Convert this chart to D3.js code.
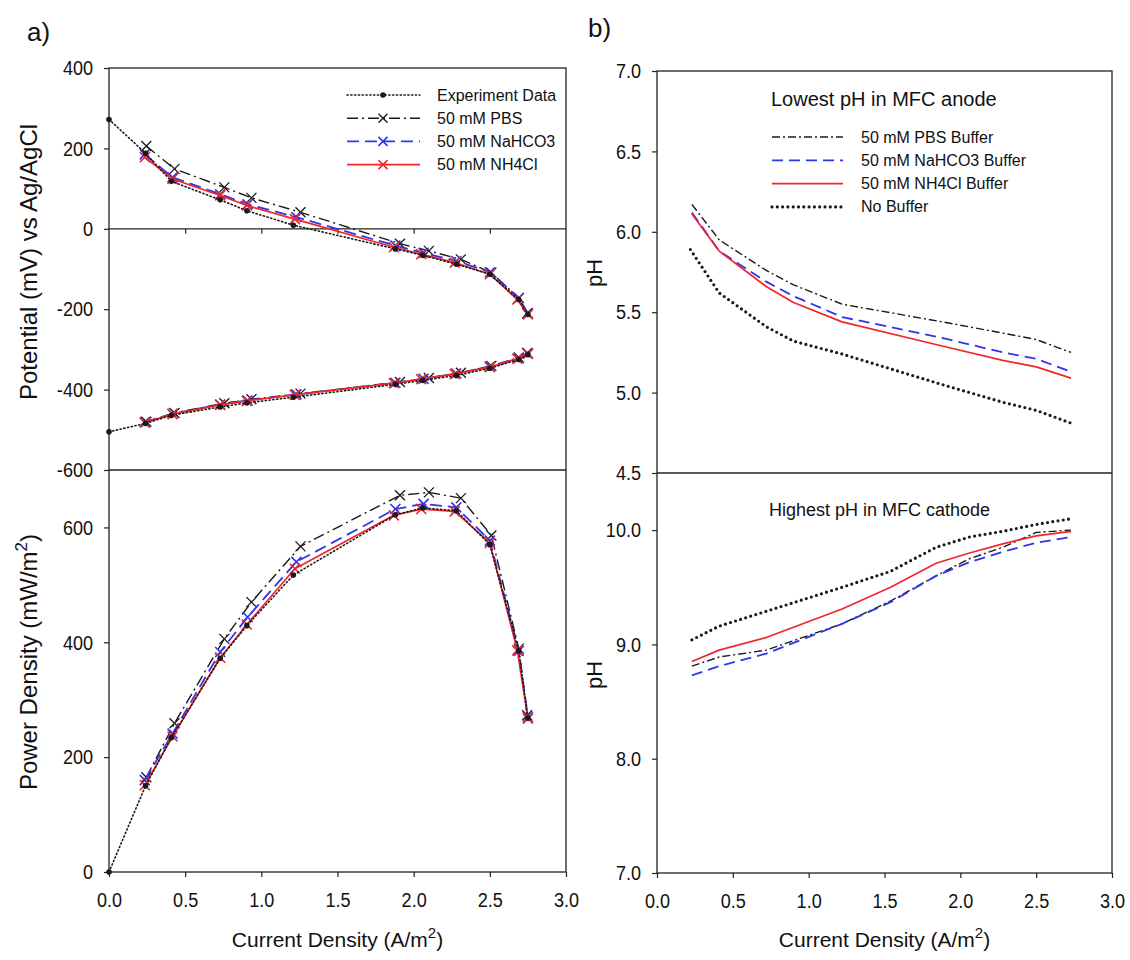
<!DOCTYPE html>
<html>
<head>
<meta charset="utf-8">
<script src="https://cdn.jsdelivr.net/npm/d3@7"></script>
<style>
  body { margin: 0; background: #fff; }
  svg { display: block; font-family: "Liberation Sans", Arial, sans-serif; }
</style>
</head>
<body>
<svg id="fig" width="1130" height="960"></svg>
<script>
// ---------- Panel a) polarization and power curves ----------
const expX        = [0, 0.24, 0.41, 0.73, 0.905, 1.21, 1.88, 2.06, 2.28, 2.5, 2.69, 2.75];
const expCathode  = [272, 188, 118, 72, 45, 9, -50, -66, -88, -113, -176, -213];
const expAnode    = [-505, -484, -464, -443, -433, -419, -387, -377, -365, -347, -325, -313];
const expPower    = [0, 150, 234, 372, 429, 517, 622, 634, 629, 570, 385, 268];

const pbsX        = [0.245, 0.43, 0.757, 0.935, 1.257, 1.91, 2.10, 2.31, 2.51, 2.69, 2.745];
const pbsCathode  = [206, 149, 103, 77, 41, -37, -55, -76, -109, -172, -210];
const pbsAnode    = [-480, -458, -434, -424, -410, -381, -371, -358, -341, -320, -309];
const pbsPower    = [165, 259, 406, 470, 567, 656, 661, 651, 586, 389, 273];

const bicX        = [0.235, 0.417, 0.73, 0.91, 1.23, 1.88, 2.065, 2.28, 2.5, 2.69, 2.75];
const bicCathode  = [185, 128, 86, 61, 29, -42, -60, -80, -108, -172, -210];
const bicAnode    = [-481, -460, -437, -427, -412, -383, -373, -360, -343, -322, -310];
const bicPower    = [160, 241, 383, 444, 540, 632, 641, 635, 577, 385, 270];

const nh4X        = [0.235, 0.417, 0.73, 0.905, 1.22, 1.87, 2.05, 2.27, 2.5, 2.68, 2.75];
const nh4Cathode  = [178, 124, 83, 58, 24, -46, -63, -84, -113, -176, -213];
const nh4Anode    = [-482, -461, -438, -428, -413, -384, -374, -361, -344, -323, -311];
const nh4Power    = [151, 236, 373, 431, 528, 621, 632, 628, 573, 386, 267];

// ---------- Panel b) extreme pH values ----------
const anodeX      = [0.23, 0.41, 0.72, 0.9, 1.22, 1.88, 2.28, 2.5, 2.73];
const pbsAnodePH  = [6.17, 5.95, 5.76, 5.67, 5.55, 5.44, 5.37, 5.33, 5.25];
const bicAnodePH  = [6.12, 5.88, 5.69, 5.60, 5.47, 5.34, 5.25, 5.21, 5.13];
const nh4AnodePH  = [6.11, 5.88, 5.66, 5.56, 5.44, 5.29, 5.20, 5.16, 5.09];
const noBufAnodeX = [0.22, 0.41, 0.72, 0.9, 1.22, 1.88, 2.28, 2.5, 2.73];
const noBufAnodePH= [5.89, 5.62, 5.41, 5.32, 5.24, 5.05, 4.94, 4.89, 4.81];

const cathodeX       = [0.23, 0.41, 0.72, 1.22, 1.54, 1.84, 2.06, 2.28, 2.5, 2.73];
const pbsCathodePH   = [8.81, 8.89, 8.95, 9.18, 9.38, 9.60, 9.75, 9.85, 9.98, 10.00];
const bicCathodePH   = [8.73, 8.81, 8.92, 9.18, 9.37, 9.60, 9.72, 9.81, 9.89, 9.94];
const nh4CathodePH   = [8.85, 8.95, 9.06, 9.31, 9.50, 9.71, 9.80, 9.88, 9.95, 9.99];
const noBufCathodePH = [9.04, 9.16, 9.29, 9.50, 9.64, 9.85, 9.94, 9.99, 10.05, 10.10];

// ---------- Tick values and labels ----------
const xTicks       = [0, 0.5, 1, 1.5, 2, 2.5, 3];
const potTicks     = [-600, -400, -200, 0, 200, 400];
const powTicks     = [0, 200, 400, 600];
const anodeTicks   = [4.5, 5, 5.5, 6, 6.5, 7];
const cathodeTicks = [7, 8, 9, 10];

const legendA = ["Experiment Data", "50 mM PBS", "50 mM NaHCO3", "50 mM NH4Cl"];
const legendB = ["50 mM PBS Buffer", "50 mM NaHCO3 Buffer", "50 mM NH4Cl Buffer", "No Buffer"];

// ---------- Styles ----------
const BLUE = "#2f35e8", RED = "#f2262a", BLACK = "#1a1a1a";
const S = {
  exp:   { stroke: BLACK, width: 1.6, dash: "1.2,2.6", cap: "round" },
  pbs:   { stroke: BLACK, width: 1.4, dash: "11,4,2,4", cap: "butt" },
  bic:   { stroke: BLUE,  width: 1.8, dash: "12,6",     cap: "butt" },
  nh4:   { stroke: RED,   width: 1.7, dash: null,       cap: "butt" },
  pbsB:  { stroke: BLACK, width: 1.4, dash: "8,3,2,3",  cap: "butt" },
  bicB:  { stroke: BLUE,  width: 1.8, dash: "11,6",     cap: "butt" },
  nobuf: { stroke: BLACK, width: 3.2, dash: "0,5.3",    cap: "round" }
};

const svg = d3.select("#fig");

// ---------- Scales ----------
const xL   = d3.scaleLinear([0, 3], [109, 566]);
const yPot = d3.scaleLinear([-600, 400], [470, 68]);
const yPow = d3.scaleLinear([0, 700], [872, 470]);
const xR   = d3.scaleLinear([0, 3], [657, 1112]);
const yAn  = d3.scaleLinear([4.5, 7], [473, 71]);
const yCa  = d3.scaleLinear([7, 10.5], [873, 473]);

const TICK_SQUEEZE = 0.86;

function finishAxis(g, orient) {
  g.attr("font-family", null).attr("font-size", 21);
  g.select(".domain").remove();
  g.selectAll(".tick line").attr("stroke", "#222").attr("stroke-width", 1.2);
  const t = g.selectAll(".tick text").attr("fill", "#111");
  if (orient === "left") {
    t.attr("x", -16 / TICK_SQUEEZE).attr("transform", `scale(${TICK_SQUEEZE},1)`);
  } else {
    t.attr("transform", `scale(${TICK_SQUEEZE},1)`);
  }
}
const fmt1 = d3.format(".1f");

// Left axes
svg.append("g").attr("transform", `translate(${xL(0)},0)`)
  .call(d3.axisLeft(yPot).tickValues(potTicks).tickFormat(d => String(d)).tickSize(5).tickPadding(11))
  .call(g => finishAxis(g, "left"));
svg.append("g").attr("transform", `translate(${xL(0)},0)`)
  .call(d3.axisLeft(yPow).tickValues(powTicks).tickFormat(d => String(d)).tickSize(5).tickPadding(11))
  .call(g => finishAxis(g, "left"));
svg.append("g").attr("transform", `translate(0,${yPow(0)})`)
  .call(d3.axisBottom(xL).tickValues(xTicks).tickFormat(fmt1).tickSize(5).tickPadding(15))
  .call(g => finishAxis(g, "bottom"));
// zero-potential axis inside the upper plot
svg.append("g").attr("transform", `translate(0,${yPot(0)})`)
  .call(d3.axisBottom(xL).tickValues(xTicks.slice(1, -1)).tickFormat("").tickSize(5))
  .call(g => finishAxis(g, "bottom"));

// Right axes
svg.append("g").attr("transform", `translate(${xR(0)},0)`)
  .call(d3.axisLeft(yAn).tickValues(anodeTicks).tickFormat(fmt1).tickSize(5).tickPadding(11))
  .call(g => finishAxis(g, "left"));
svg.append("g").attr("transform", `translate(${xR(0)},0)`)
  .call(d3.axisLeft(yCa).tickValues(cathodeTicks).tickFormat(fmt1).tickSize(5).tickPadding(11))
  .call(g => finishAxis(g, "left"));
svg.append("g").attr("transform", `translate(0,${yCa(7)})`)
  .call(d3.axisBottom(xR).tickValues(xTicks).tickFormat(fmt1).tickSize(5).tickPadding(15))
  .call(g => finishAxis(g, "bottom"));

// Frames and panel dividers
function frame(x0, x1, y0, y1, ymid) {
  svg.append("rect").attr("x", x0).attr("y", y0).attr("width", x1 - x0).attr("height", y1 - y0)
    .attr("fill", "none").attr("stroke", "#222").attr("stroke-width", 1.3);
  svg.append("line").attr("x1", x0).attr("x2", x1).attr("y1", ymid).attr("y2", ymid)
    .attr("stroke", "#222").attr("stroke-width", 1.3);
}
frame(xL(0), xL(3), yPot(400), yPow(0), yPot(-600));
frame(xR(0), xR(3), yAn(7), yCa(7), yAn(4.5));
svg.append("line").attr("x1", xL(0)).attr("x2", xL(3)).attr("y1", yPot(0)).attr("y2", yPot(0))
  .attr("stroke", "#222").attr("stroke-width", 1.3);

// ---------- Marks ----------
function series(xs, ys, xs_, ys_, st) {
  const pts = d3.zip(xs, ys);
  const p = svg.append("path").datum(pts)
    .attr("d", d3.line().x(d => xs_(d[0])).y(d => ys_(d[1])))
    .attr("fill", "none").attr("stroke", st.stroke).attr("stroke-width", st.width)
    .attr("stroke-linecap", st.cap).attr("stroke-linejoin", "round");
  if (st.dash) p.attr("stroke-dasharray", st.dash);
  return pts;
}
function crosses(pts, xs_, ys_, color, w) {
  svg.append("g").selectAll("path").data(pts).join("path")
    .attr("transform", d => `translate(${xs_(d[0])},${ys_(d[1])})`)
    .attr("d", "M-5,-5L5,5M-5,5L5,-5")
    .attr("stroke", color).attr("stroke-width", w).attr("fill", "none");
}
function dots(pts, xs_, ys_) {
  svg.append("g").selectAll("circle").data(pts).join("circle")
    .attr("cx", d => xs_(d[0])).attr("cy", d => ys_(d[1])).attr("r", 2.8).attr("fill", BLACK);
}

// Panel a): three models, then the measured data
[
  [pbsX, pbsCathode, pbsAnode, pbsPower, S.pbs, BLACK, 1.3],
  [bicX, bicCathode, bicAnode, bicPower, S.bic, BLUE, 1.6],
  [nh4X, nh4Cathode, nh4Anode, nh4Power, S.nh4, RED, 1.6]
].forEach(([xs, cat, an, pw, st, col, w]) => {
  crosses(series(xs, cat, xL, yPot, st), xL, yPot, col, w);
  crosses(series(xs, an, xL, yPot, st), xL, yPot, col, w);
  crosses(series(xs, pw, xL, yPow, st), xL, yPow, col, w);
});
dots(series(expX, expCathode, xL, yPot, S.exp), xL, yPot);
dots(series(expX, expAnode, xL, yPot, S.exp), xL, yPot);
dots(series(expX, expPower, xL, yPow, S.exp), xL, yPow);

// Panel b)
series(anodeX, pbsAnodePH, xR, yAn, S.pbsB);
series(anodeX, bicAnodePH, xR, yAn, S.bicB);
series(anodeX, nh4AnodePH, xR, yAn, S.nh4);
series(noBufAnodeX, noBufAnodePH, xR, yAn, S.nobuf);
series(cathodeX, pbsCathodePH, xR, yCa, S.pbsB);
series(cathodeX, bicCathodePH, xR, yCa, S.bicB);
series(cathodeX, nh4CathodePH, xR, yCa, S.nh4);
series(cathodeX, noBufCathodePH, xR, yCa, S.nobuf);

// ---------- Legends ----------
const legA = svg.append("g");
const legAStyles = [[S.exp, "dot", BLACK], [S.pbs, "x", BLACK], [S.bic, "x", BLUE], [S.nh4, "x", RED]];
legendA.forEach((label, i) => {
  const y = 95 + i * 23.2;
  const [st, mk, col] = legAStyles[i];
  const ln = legA.append("line").attr("x1", 347).attr("x2", 420).attr("y1", y).attr("y2", y)
    .attr("stroke", st.stroke).attr("stroke-width", st.width).attr("stroke-linecap", st.cap);
  if (st.dash) ln.attr("stroke-dasharray", st.dash);
  if (mk === "dot") {
    legA.append("circle").attr("cx", 383).attr("cy", y).attr("r", 2.8).attr("fill", BLACK);
  } else {
    legA.append("path").attr("transform", `translate(383,${y})`).attr("d", "M-4.5,-4.5L4.5,4.5M-4.5,4.5L4.5,-4.5")
      .attr("stroke", col).attr("stroke-width", st === S.pbs ? 1.3 : 1.6);
  }
  legA.append("text").attr("x", 437).attr("y", y + 5.5).attr("font-size", 16).attr("fill", "#111").text(label);
});

const legB = svg.append("g");
legB.append("text").attr("x", 771).attr("y", 106).attr("font-size", 20).attr("fill", "#111").text("Lowest pH in MFC anode");
[S.pbsB, S.bicB, S.nh4, S.nobuf].forEach((st, i) => {
  const y = 137 + i * 23.3;
  const ln = legB.append("line").attr("x1", 772).attr("x2", 843).attr("y1", y).attr("y2", y)
    .attr("stroke", st.stroke).attr("stroke-width", st.width).attr("stroke-linecap", st.cap);
  if (st.dash) ln.attr("stroke-dasharray", st.dash);
  legB.append("text").attr("x", 861).attr("y", y + 5.5).attr("font-size", 16).attr("fill", "#111").text(legendB[i]);
});
svg.append("text").attr("x", 769).attr("y", 516).attr("font-size", 18).attr("fill", "#111").text("Highest pH in MFC cathode");

// ---------- Titles ----------
function xTitle(cx) {
  const t = svg.append("text").attr("x", cx).attr("y", 947).attr("text-anchor", "middle")
    .attr("font-size", 21).attr("fill", "#111");
  t.append("tspan").text("Current Density (A/m");
  t.append("tspan").attr("dy", -9).attr("font-size", 15).text("2");
  t.append("tspan").attr("dy", 9).text(")");
}
xTitle((xL(0) + xL(3)) / 2);
xTitle((xR(0) + xR(3)) / 2);

function yTitle(x, y, parts, size) {
  const t = svg.append("text").attr("transform", `translate(${x},${y}) rotate(-90)`)
    .attr("text-anchor", "middle").attr("font-size", size).attr("fill", "#111");
  parts.forEach(p => {
    const s = t.append("tspan").text(p.text);
    if (p.dy) s.attr("dy", p.dy);
    if (p.size) s.attr("font-size", p.size);
  });
}
yTitle(37, 262, [{ text: "Potential (mV) vs Ag/AgCl" }], 24);
yTitle(37, 662, [{ text: "Power Density (mW/m" }, { text: "2", dy: -10, size: 17 }, { text: ")", dy: 10 }], 24);
yTitle(602, 273, [{ text: "pH" }], 22);
yTitle(602, 675, [{ text: "pH" }], 22);

svg.append("text").attr("x", 27).attr("y", 41).attr("font-size", 26).attr("fill", "#111").text("a)");
svg.append("text").attr("x", 588).attr("y", 37).attr("font-size", 26).attr("fill", "#111").text("b)");
</script>
</body>
</html>
